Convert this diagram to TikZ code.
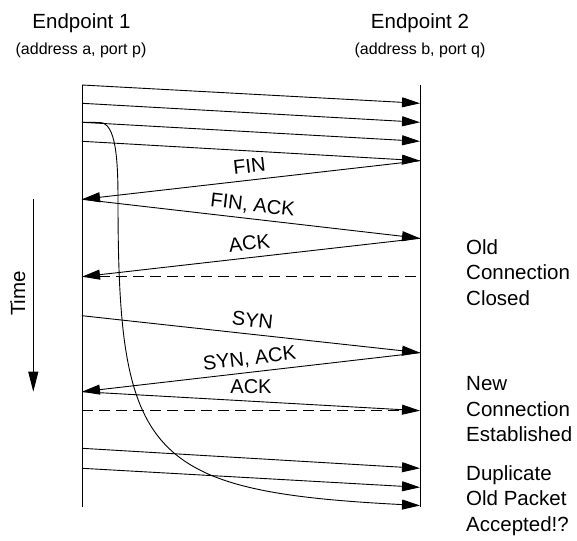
\documentclass[tikz,border=0pt]{standalone}
\usepackage{fontspec}
\setmainfont{Liberation Sans}
\usetikzlibrary{arrows.meta}
\begin{document}
\begin{tikzpicture}[x=1pt,y=-1pt,
  life/.style={line width=0.9pt},
  msg/.style={line width=0.9pt,-{Triangle[length=18pt,width=10pt]}},
  dline/.style={line width=0.9pt,dash pattern=on 11pt off 6pt},
  lbl/.style={font=\fontsize{20}{24}\selectfont,inner sep=0pt,text depth=0pt},
  head/.style={font=\fontsize{20.5}{24}\selectfont,inner sep=0pt,anchor=base},
  sub/.style={font=\fontsize{16}{19}\selectfont,inner sep=0pt,anchor=base},
  side/.style={font=\fontsize{20.5}{25.5}\selectfont,inner sep=0pt,anchor=base west,align=left}]
\useasboundingbox (0,0) rectangle (577,540);
% headers
\node[head] (h1) at (81.5,28.3) {Endpoint 1};
\node[sub] (s1) at (81,55) {(address a, port p)};
\node[head] (h2) at (420,28.3) {Endpoint 2};
\node[sub] (s2) at (420,55) {(address b, port q)};
% lifelines
\coordinate (Ltop) at (82,85);
\coordinate (Lbot) at (82,507);
\coordinate (Rtop) at (420,85);
\coordinate (Rbot) at (420,507);
\draw[life] (Ltop) -- (Lbot);
\draw[life] (Rtop) -- (Rbot);
% levels
\foreach \n/\y in {a/85,b/103.3,c/122.3,d/141.3,e/160.7,f/199.3,g/238.3,h/276.7,i/315.7,j/352.7,k/391.7,l/410.7,m/448.3,n/468.3,o/487.3,z/505.5}{
  \coordinate (L\n) at (82,\y);
  \coordinate (R\n) at (420,\y);
}
% old data
\draw[msg] (La) -- (Rb);
\draw[msg] (Lb) -- (Rc);
\draw[msg] (Lc) -- (Rd);
\draw[msg] (Ld) -- (Re);
% close
\draw[msg] (Re) -- node[lbl,midway,sloped,above=7pt] {FIN} (Lf);
\draw[msg] (Lf) -- node[lbl,midway,sloped,above=7pt] {FIN, ACK} (Rg);
\draw[msg] (Rg) -- node[lbl,midway,sloped,above=7pt] {ACK} (Lh);
\draw[dline] (Lh) -- (Rh);
% open
\draw[msg] (Li) -- node[lbl,midway,sloped,above=7pt] {SYN} (Rj);
\draw[msg] (Rj) -- node[lbl,midway,sloped,above=7pt] {SYN, ACK} (Lk);
\draw[msg] (Lk) -- node[lbl,midway,above=7pt] {ACK} (Rl);
\draw[dline] (Ll) -- (Rl);
% new data
\draw[msg] (Lm) -- (Rn);
\draw[msg] (Ln) -- (Ro);
% delayed duplicate
\coordinate (c1) at (100,122.5);
\coordinate (c2) at (118,200);
\draw[msg] (Lc) -- (c1) .. controls (116,123) and (118,160) .. (c2)
  .. controls (118,456) and (146,491.5) .. (Rz);
% time axis
\coordinate (t1) at (33.3,199.3);
\coordinate (t2) at (33.3,391.7);
\draw[line width=0.9pt,-{Triangle[length=20pt,width=10pt]}] (t1) -- (t2);
\node[head,rotate=90] (time) at (25,293.5) {Time};
% side notes (anchor is the baseline of the last line)
\node[side] (old) at (466,305.3) {Old\\Connection\\Closed};
\node[side] (new) at (466,441.7) {New\\Connection\\Established};
\node[side] (dup) at (466,531) {Duplicate\\Old Packet\\Accepted!?};
\end{tikzpicture}
\end{document}
